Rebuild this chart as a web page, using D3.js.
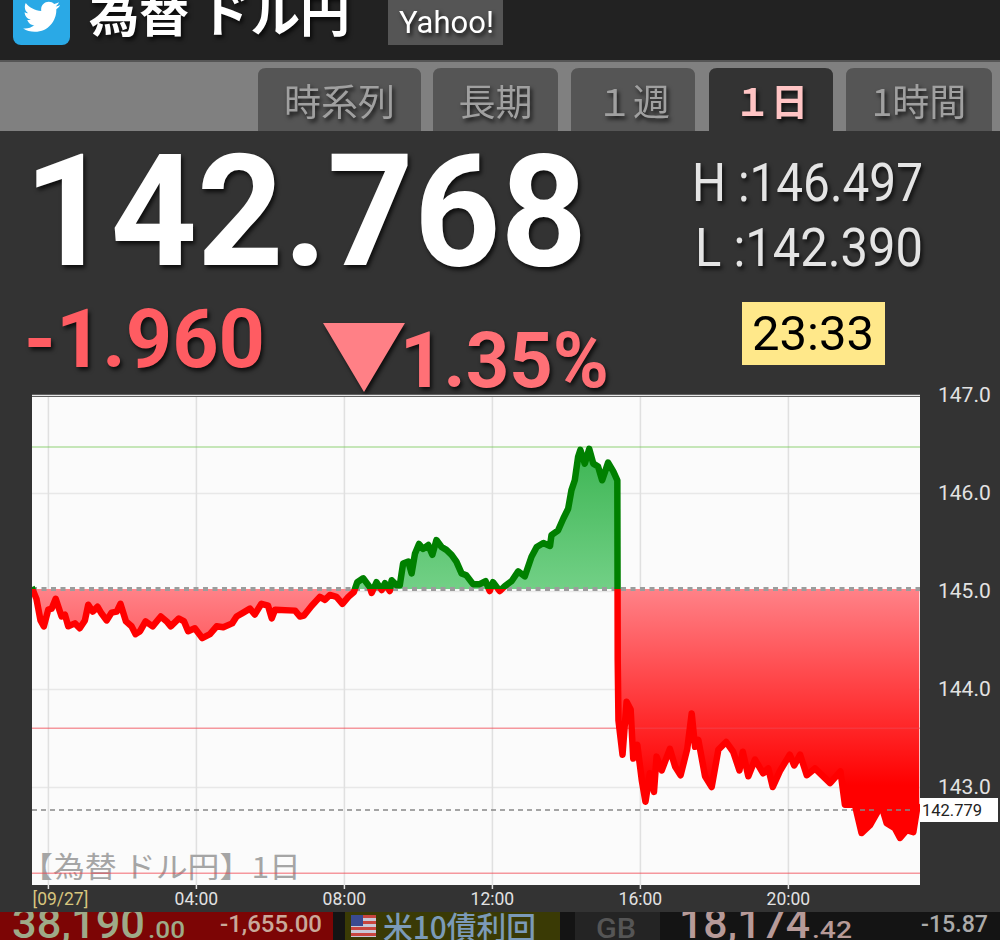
<!DOCTYPE html>
<html><head><meta charset="utf-8">
<script src="https://cdn.jsdelivr.net/npm/d3@7"></script>
<style>
html,body{margin:0;padding:0;background:#333;overflow:hidden}
svg{display:block}
text{font-family:Roboto,"Noto Sans CJK JP",sans-serif}
.jp{font-family:"Noto Sans CJK JP",sans-serif}
.sh{filter:drop-shadow(2px 3px 2px rgba(0,0,0,.75))}
</style></head><body>
<svg id="c" width="1000" height="940"></svg>
<script>
// ---------- chart data ----------
const hours = [-0.44,-0.31,-0.20,-0.11,0.01,0.10,0.21,0.37,0.46,0.55,0.73,0.86,1.00,1.09,1.21,1.34,1.45,1.59,1.72,1.86,1.96,2.11,2.26,2.37,2.49,2.64,2.83,3.05,3.21,3.32,3.54,3.68,3.79,3.97,4.17,4.38,4.56,4.74,4.98,5.10,5.28,5.46,5.59,5.77,5.95,6.05,6.14,6.68,6.81,6.92,7.13,7.35,7.49,7.62,7.80,7.96,8.12,8.27,8.36,8.52,8.70,8.75,8.88,9.02,9.11,9.24,9.29,9.42,9.51,9.60,9.74,9.83,9.92,10.03,10.14,10.28,10.39,10.50,10.64,10.77,10.91,11.04,11.18,11.31,11.49,11.67,11.83,11.94,12.03,12.21,12.35,12.53,12.71,12.89,13.07,13.21,13.39,13.57,13.61,13.79,13.93,14.06,14.15,14.24,14.33,14.39,14.51,14.63,14.74,14.87,14.98,15.14,15.28,15.39,15.40,15.42,15.53,15.64,15.75,15.82,15.93,16.05,16.15,16.27,16.38,16.45,16.59,16.81,16.95,17.10,17.28,17.40,17.49,17.58,17.76,17.94,18.12,18.33,18.52,18.69,18.78,18.93,19.11,19.33,19.47,19.59,19.78,20.05,20.17,20.33,20.51,20.73,21.14,21.42,21.54,21.81,21.99,22.22,22.40,22.51,22.67,22.89,23.03,23.21,23.39,23.50,23.55];
const prices = [145.04,144.92,144.70,144.64,144.81,144.82,144.92,144.74,144.76,144.64,144.67,144.62,144.70,144.86,144.79,144.84,144.77,144.70,144.78,144.79,144.87,144.69,144.64,144.56,144.59,144.69,144.64,144.74,144.69,144.64,144.72,144.69,144.59,144.62,144.52,144.56,144.64,144.63,144.67,144.74,144.78,144.82,144.76,144.87,144.85,144.72,144.81,144.80,144.74,144.75,144.85,144.94,144.91,144.96,144.94,144.87,144.94,144.99,145.09,145.13,145.04,144.98,145.09,145.01,145.08,145.00,145.11,145.06,145.06,145.28,145.30,145.18,145.38,145.48,145.43,145.47,145.37,145.52,145.45,145.42,145.37,145.30,145.18,145.16,145.07,145.07,145.10,145.00,145.09,145.00,145.05,145.10,145.20,145.15,145.35,145.45,145.49,145.46,145.57,145.62,145.74,145.84,146.03,146.13,146.37,146.44,146.30,146.45,146.30,146.27,146.13,146.31,146.22,146.13,144.30,143.68,143.33,143.87,143.79,143.29,143.43,143.07,142.85,143.14,142.95,143.31,143.17,143.39,143.21,143.12,143.39,143.75,143.41,143.48,143.11,143.00,143.38,143.46,143.36,143.17,143.36,143.11,143.28,143.14,143.19,143.00,143.16,143.33,143.22,143.33,143.12,143.19,143.04,143.16,142.82,142.82,142.53,142.61,142.73,142.83,142.63,142.58,142.48,142.56,142.54,142.80,142.83];
const baseValue = 145.02, highLine = 146.47, midLine = 143.60, lowLine = 142.12, currentLine = 142.765;
const priceTicks = [147,146,145,144,143];
const hourTicks = [0,4,8,12,16,20];
const hourLabels = ["[09/27]","04:00","08:00","12:00","16:00","20:00"];
const tabNames = ["時系列","長期","１週","１日","1時間"];
// ---------- drawing ----------
const svg = d3.select("#c");
const P = {l:32,r:920,t:397,b:885};
const x = d3.scaleLinear().domain([-0.43,23.57]).range([P.l,P.r]);
const y = d3.scaleLinear().domain([142,146.98]).range([P.b,P.t]);
const data = hours.map((h,i)=>({h,v:prices[i]}));
const defs = svg.append("defs");
function clip(id,a,b,c,d){defs.append("clipPath").attr("id",id).append("rect").attr("x",a).attr("y",b).attr("width",c).attr("height",d);}
clip("plot",P.l,P.t,P.r-P.l,P.b-P.t);
clip("up",P.l,P.t,P.r-P.l,y(baseValue)-P.t);
clip("dn",P.l,y(baseValue),P.r-P.l,P.b-y(baseValue));
clip("topClip",0,0,1000,60);
clip("bot",0,912,1000,28);
function grad(id,stops,y1,y2){const g=defs.append("linearGradient").attr("id",id).attr("gradientUnits","userSpaceOnUse").attr("x1",0).attr("x2",0).attr("y1",y1).attr("y2",y2);
 stops.forEach(s=>g.append("stop").attr("offset",s[0]).attr("stop-color",s[1]));}
grad("gRed",[[0,"#ff8288"],[1,"#ff0000"]],y(baseValue),y(143.02));
grad("gGreen",[[0,"#3fb655"],[1,"#72d086"]],y(146.4),y(baseValue));

// page
svg.append("rect").attr("width",1000).attr("height",940).attr("fill","#333");
svg.append("rect").attr("width",1000).attr("height",60).attr("fill","#222");
svg.append("rect").attr("y",60).attr("width",1000).attr("height",71).attr("fill","#808080");
svg.append("rect").attr("y",60).attr("width",1000).attr("height",2).attr("fill","#555");

// header
const head = svg.append("g").attr("clip-path","url(#topClip)");
head.append("rect").attr("x",13).attr("y",-20).attr("width",57).attr("height",65).attr("rx",8).attr("fill","#2aa9e6");
head.append("path").attr("fill","#fff").attr("transform","translate(22,-3) scale(1.65)")
 .attr("d","M23 5c-.8.4-1.7.6-2.6.7.9-.6 1.6-1.4 2-2.5-.9.5-1.8.9-2.9 1.1C18.700 3.400 17.500 2.900 16.200 2.900c-2.500 0-4.600 2-4.600 4.600 0 .4 0 .7.1 1C7.900 8.300 4.500 6.500 2.300 3.700c-.4.700-.6 1.500-.6 2.300 0 1.600.8 3 2 3.800-.8 0-1.500-.2-2.100-.6v.1c0 2.200 1.600 4.100 3.700 4.500-.4.100-.8.200-1.200.2-.3 0-.6 0-.9-.1.600 1.800 2.300 3.200 4.300 3.200-1.600 1.200-3.600 2-5.700 2H.7c2 1.300 4.500 2 7 2 8.500 0 13.100-7 13.100-13.100v-.6c.9-.6 1.700-1.400 2.300-2.300z");
head.append("text").attr("class","jp sh").attr("x",89).attr("y",32).attr("font-size",50).attr("font-weight",700).attr("fill","#fff").attr("textLength",261).attr("lengthAdjust","spacingAndGlyphs").text("為替 ドル円");
head.append("rect").attr("x",388).attr("y",-5).attr("width",115).attr("height",50).attr("fill","#555");
head.append("text").attr("class","sh").attr("x",446.500).attr("y",33).attr("text-anchor","middle").attr("font-size",31).attr("fill","#fff").text("Yahoo!");

// tabs
const tabBoxes = [[258,421],[433,558],[571,695],[709,833],[846,992]];
tabNames.forEach((t,i)=>{
 const [a,b]=tabBoxes[i], on=i===3;
 svg.append("path").attr("d",`M${a},131V76q0,-8,8,-8H${b-8}q8,0,8,8V131Z`).attr("fill",on?"#333":"#555");
 svg.append("text").attr("class","jp sh").attr("x",(a+b)/2).attr("y",116).attr("text-anchor","middle")
  .attr("font-size",37).attr("font-weight",on?700:400).attr("fill",on?"#ffc4c4":"#a0a0a0").text(t);
});

// quote block
function T(s,a,b,size,fill,w,len,cls){const e=svg.append("text").attr("class",cls||"sh").attr("x",a).attr("y",b).attr("font-size",size).attr("fill",fill).attr("font-weight",w||400).text(s);
 if(len)e.attr("textLength",len).attr("lengthAdjust","spacingAndGlyphs");return e;}
T("142.768",24,265,155,"#fff",700,563);
T("H :146.497",692,201,53,"#e4e4e4",400,231);
T("L :142.390",695,266,53,"#e4e4e4",400,228);
T("-1.960",24,367,81,"#ff5c62",700,241);
svg.append("path").attr("class","sh").attr("d",d3.line()([[323,323],[405,323],[364,392]])+"Z").attr("fill","#ff8086");
T("1.35%",400,387,77,"#ff7076",700,209);
svg.append("rect").attr("x",742).attr("y",302).attr("width",143).attr("height",63).attr("fill","#ffe88a");
T("23:33",813,350,49,"#000",400,null,"x").attr("text-anchor","middle");

// plot
svg.append("rect").attr("x",P.l).attr("y",P.t).attr("width",P.r-P.l).attr("height",P.b-P.t).attr("fill","#fbfbfb");
const gridY = svg.append("g").attr("transform",`translate(${P.l},0)`)
 .call(d3.axisRight(y).tickValues(priceTicks).tickSize(P.r-P.l).tickFormat(""));
gridY.select(".domain").remove();
gridY.selectAll("line").attr("stroke","#e8e8e8").attr("stroke-width",1.5);
const gridX = svg.append("g").attr("transform",`translate(0,${P.b})`)
 .call(d3.axisBottom(x).tickValues(hourTicks).tickSize(5).tickFormat((d,i)=>hourLabels[i]));
gridX.select(".domain").remove();
gridX.selectAll("line").attr("stroke","#e0e0e0").attr("stroke-width",1.5).attr("y1",P.t-P.b).attr("y2",4);
gridX.selectAll("text").attr("y",8).attr("dy",".71em").attr("font-size",17.5).attr("fill","#e2e2e2").attr("font-family","Roboto");
gridX.selectAll("text").filter((d,i)=>i===0).attr("text-anchor","start").attr("x",x(-0.43)-x(0)).attr("fill","#d8c67e").attr("font-size",17.5);

T("【為替 ドル円】1日",21,878,29,"#a5a5a5",400,280,"jp");

const area = d3.area().x(d=>x(d.h)).y0(y(baseValue)).y1(d=>y(d.v));
const line = d3.line().x(d=>x(d.h)).y(d=>y(d.v));
const plot = svg.append("g").attr("clip-path","url(#plot)");
plot.append("g").attr("clip-path","url(#dn)").append("path").datum(data).attr("d",area).attr("fill","url(#gRed)");
plot.append("g").attr("clip-path","url(#up)").append("path").datum(data).attr("d",area).attr("fill","url(#gGreen)");

[[highLine,"rgba(120,200,90,.55)"],[midLine,"rgba(240,70,80,.55)"],[lowLine,"rgba(240,70,80,.55)"]].forEach(r=>
 plot.append("line").attr("x1",P.l).attr("x2",P.r).attr("y1",y(r[0])).attr("y2",y(r[0])).attr("stroke",r[1]).attr("stroke-width",1.6));
plot.append("line").attr("x1",P.l).attr("x2",P.r).attr("y1",y(currentLine)).attr("y2",y(currentLine)).attr("stroke","#888").attr("stroke-width",1.5).attr("stroke-dasharray","5 4");
plot.append("line").attr("x1",P.l).attr("x2",P.r).attr("y1",y(baseValue)).attr("y2",y(baseValue)).attr("stroke","#9c9c9c").attr("stroke-width",4).attr("stroke-dasharray","5 4.500");
plot.append("g").attr("clip-path","url(#dn)").append("path").datum(data).attr("d",line).attr("fill","none").attr("stroke","#ff0000").attr("stroke-width",6.5).attr("stroke-linejoin","round");
plot.append("g").attr("clip-path","url(#up)").append("path").datum(data).attr("d",line).attr("fill","none").attr("stroke","#008000").attr("stroke-width",6.5).attr("stroke-linejoin","round");

// price axis
const yAxis = svg.append("g").attr("transform",`translate(${P.r},0)`)
 .call(d3.axisRight(y).tickValues(priceTicks).tickSize(0).tickPadding(18).tickFormat(d3.format(".1f")));
yAxis.select(".domain").remove();
yAxis.selectAll("text").attr("font-size",21).attr("fill","#e2e2e2").attr("font-family","Roboto");

svg.append("rect").attr("x",920).attr("y",798).attr("width",78).attr("height",24).attr("fill","#fff");
T(d3.format(".3f")(142.779),922,816,16.5,"#222",400,null,"x");

// bottom ticker
const bot = svg.append("g").attr("clip-path","url(#bot)");
bot.append("rect").attr("y",912).attr("width",1000).attr("height",28).attr("fill","#141414");
bot.append("rect").attr("y",912).attr("width",333).attr("height",28).attr("fill","#7c0505");
bot.append("rect").attr("x",345).attr("y",912).attr("width",215).attr("height",28).attr("fill","#3a3a05");
bot.append("rect").attr("x",575).attr("y",912).attr("width",85).attr("height",28).attr("fill","#242424");
function B(s,a,b,size,fill,len,cls){const e=bot.append("text").attr("x",a).attr("y",b).attr("font-size",size).attr("fill",fill).attr("font-weight",500).text(s);
 if(cls)e.attr("class",cls); if(len)e.attr("textLength",len).attr("lengthAdjust","spacingAndGlyphs");return e;}
B("38,190",12,938,42,"#9eaa88",133);
B(".00",148,938,24,"#9eaa88",37);
B("-1,655.00",220,932,24,"#c9a99a",102);
bot.append("rect").attr("x",351).attr("y",915).attr("width",25).attr("height",22).attr("fill","#c9c9d8");
[0,1,2,3].forEach(i=>bot.append("rect").attr("x",351).attr("y",915+i*6).attr("width",25).attr("height",3).attr("fill","#c8453f"));
bot.append("rect").attr("x",351).attr("y",915).attr("width",12).attr("height",11).attr("fill","#3a4a90");
B("米10債利回",383,939,31,"#7b9ab8",153,"jp");
B("GB",596,938,28,"#555",40);
B("18,174",679,938,42,"#b79a98",131);
B(".42",812,938,24,"#b79a98",40);
B("-15.87",921,932,24,"#aaa",67);
</script>
</body></html>
